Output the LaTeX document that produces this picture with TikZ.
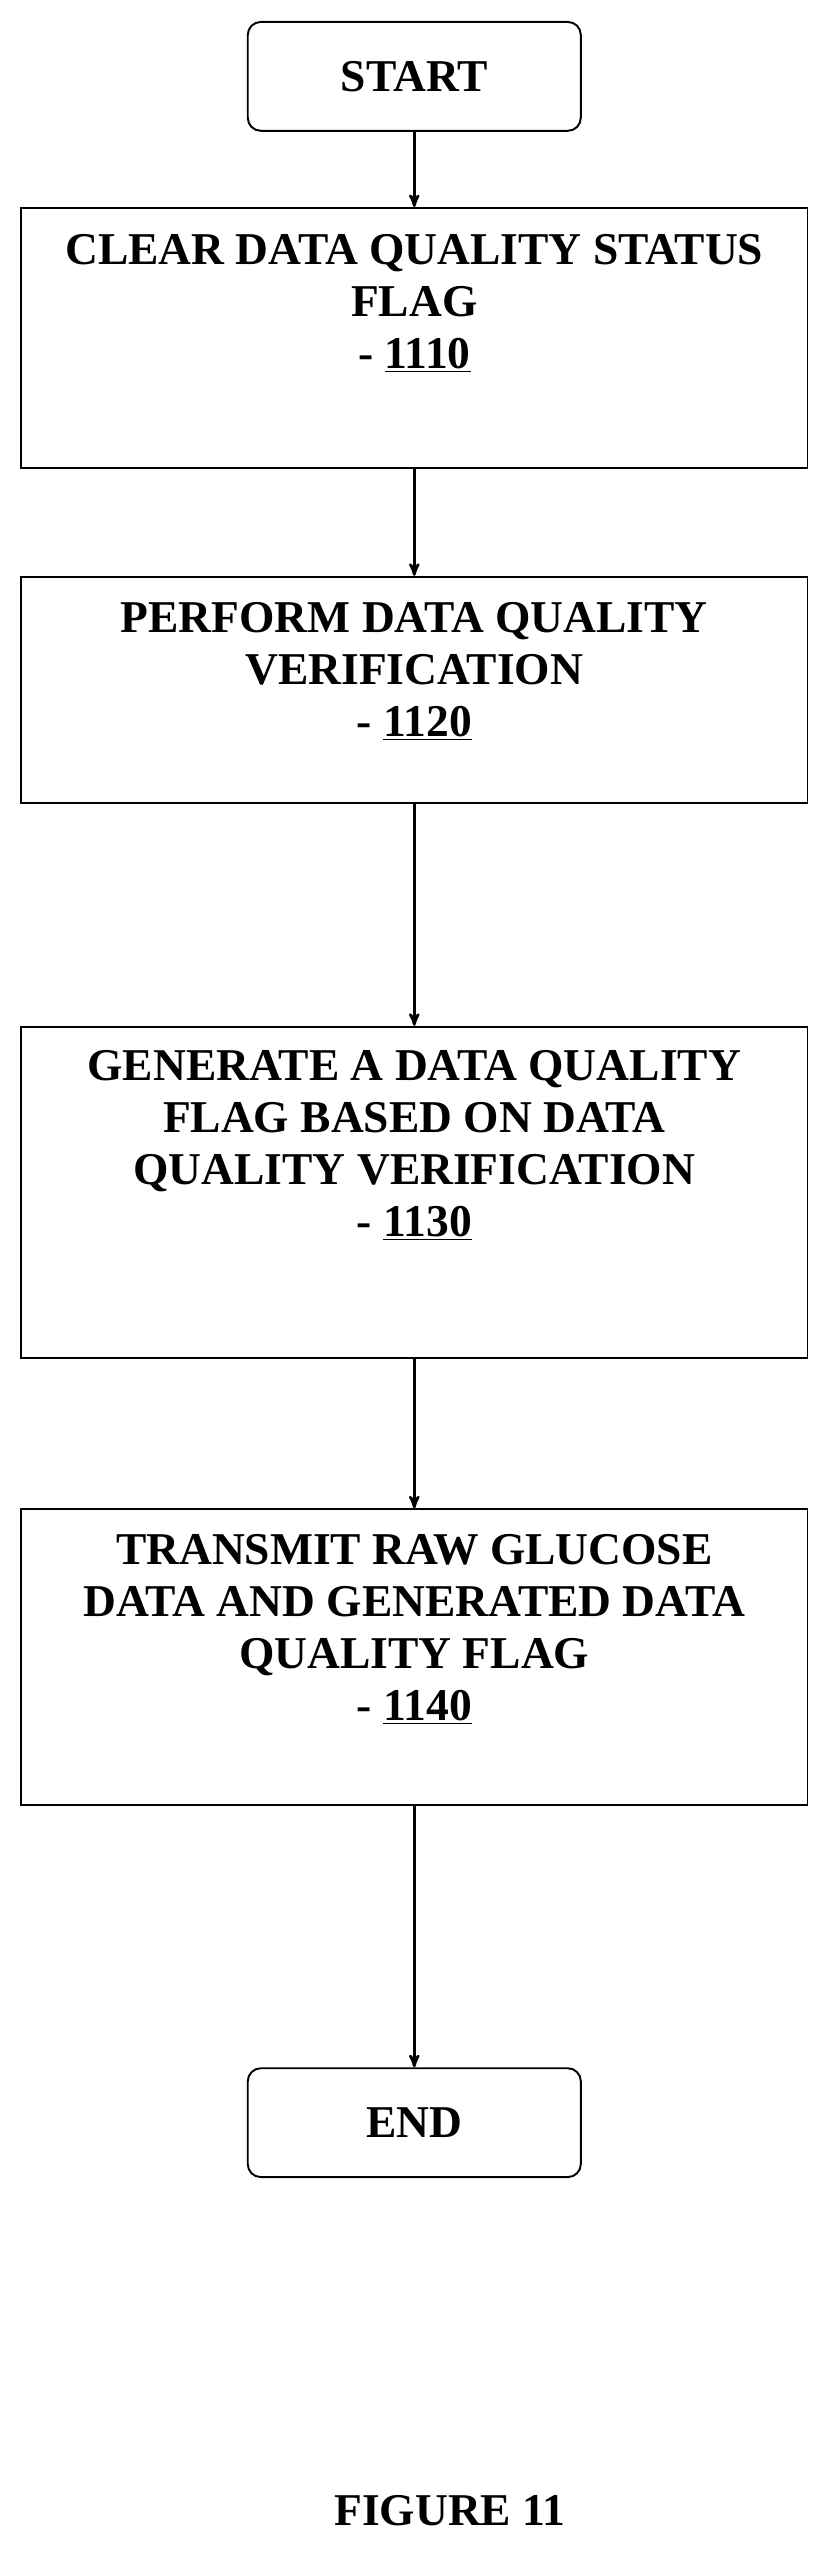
\documentclass[tikz,border=0pt]{standalone}
\usepackage{fontspec}
\setmainfont{Liberation Serif}
\usetikzlibrary{arrows}
\usetikzlibrary{positioning}

\begin{document}
\begin{tikzpicture}[
    x=1pt,y=-1pt,
    term/.style={%
      draw,
      rectangle,
      rounded corners=8pt,
      line width=1.2pt,
      minimum width=205pt,
      minimum height=67pt,
      font=\bfseries\fontsize{28}{32}\selectfont,
    },
    stepbox/.style={%
      draw,
      rectangle,
      line width=1.2pt,
      minimum width=484pt,
    },
    steptext/.style={%
      anchor=north,
      align=center,
      font=\bfseries\fontsize{28}{32}\selectfont,
    },
    flow/.style={-stealth',line width=1.2pt,shorten >=0pt,>=stealth',
      arrows={-stealth'},scale=1},
  ]

    \useasboundingbox (0,0) rectangle (512,1580);

    \node [term] (start) at (255,47) {START};

    \node [stepbox,minimum height=160pt] (B1) at (255,208) {};
    \node [steptext] (T1) at (255,141) {CLEAR DATA QUALITY STATUS\\FLAG\\- \underline{1110}};

    \node [stepbox,minimum height=139pt] (B2) at (255,424.5) {};
    \node [steptext] (T2) at (255,367) {PERFORM DATA QUALITY\\VERIFICATION\\- \underline{1120}};

    \node [stepbox,minimum height=204pt] (B3) at (255,734) {};
    \node [steptext] (T3) at (255,643) {GENERATE A DATA QUALITY\\FLAG BASED ON DATA\\QUALITY VERIFICATION\\- \underline{1130}};

    \node [stepbox,minimum height=182pt] (B4) at (255,1020) {};
    \node [steptext] (T4) at (255,941) {TRANSMIT RAW GLUCOSE\\DATA AND GENERATED DATA\\QUALITY FLAG\\- \underline{1140}};

    \node [term] (end) at (255,1306.5) {END};

    \node [font=\bfseries\fontsize{28}{32}\selectfont] (fig) at (277,1545) {FIGURE 11};

    \draw [flow,line width=1.6pt] (start) -- (B1);
    \draw [flow,line width=1.6pt] (B1) -- (B2);
    \draw [flow,line width=1.6pt] (B2) -- (B3);
    \draw [flow,line width=1.6pt] (B3) -- (B4);
    \draw [flow,line width=1.6pt] (B4) -- (end);
\end{tikzpicture}
\end{document}
